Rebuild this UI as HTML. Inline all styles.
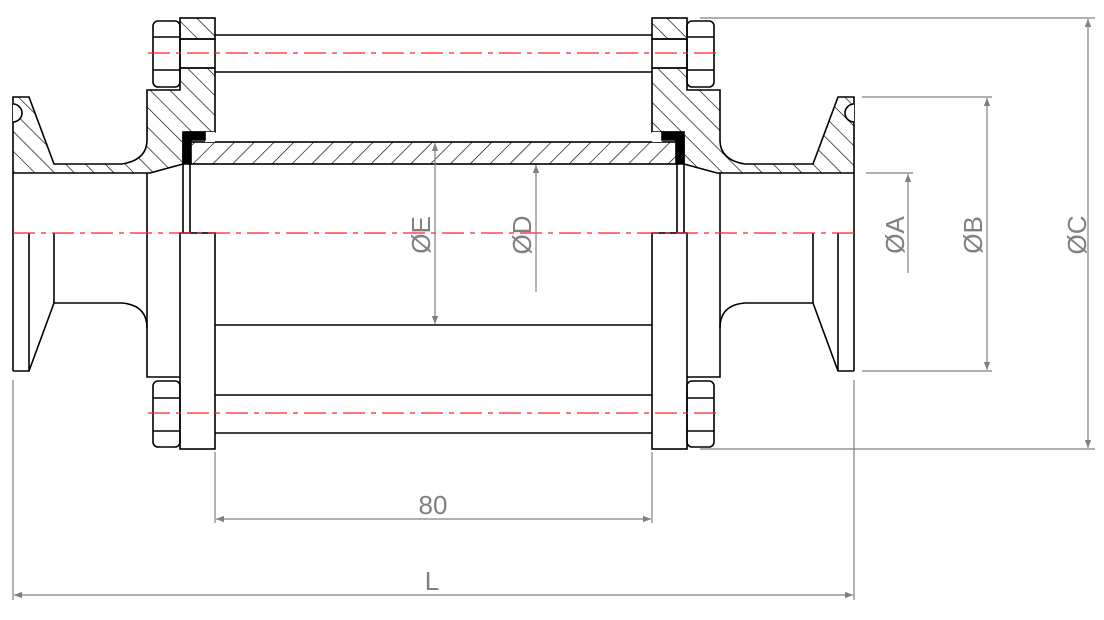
<!DOCTYPE html>
<html><head><meta charset="utf-8"><style>
html,body{margin:0;padding:0;background:#fff;width:1104px;height:620px;overflow:hidden}
text{font-family:"Liberation Sans",sans-serif;fill:#808080}
</style></head><body>
<svg width="1104" height="620" viewBox="0 0 1104 620" xmlns="http://www.w3.org/2000/svg">
<defs>
<pattern id="hL" patternUnits="userSpaceOnUse" width="14" height="14" patternTransform="rotate(-45)"><line x1="0" y1="0" x2="0" y2="14" stroke="#000" stroke-width="1.3"/></pattern>
<pattern id="hR" patternUnits="userSpaceOnUse" width="14" height="14" patternTransform="rotate(45)"><line x1="0" y1="0" x2="0" y2="14" stroke="#000" stroke-width="1.3"/></pattern>
<pattern id="hT" patternUnits="userSpaceOnUse" width="14" height="14" patternTransform="rotate(45)"><line x1="0" y1="0" x2="0" y2="14" stroke="#000" stroke-width="1.3"/></pattern>
<marker id="ar" viewBox="0 0 10 10" refX="10" refY="5" markerWidth="14" markerHeight="8" markerUnits="userSpaceOnUse" orient="auto-start-reverse"><path d="M0,1 L10,5 L0,9 z" fill="#808080"/></marker>
</defs>
<g fill="none" stroke="#000" stroke-width="1.6">
<rect x="190" y="142" width="487" height="22" fill="url(#hT)"/>
<line x1="215" y1="35" x2="652" y2="35"/><line x1="215" y1="72" x2="652" y2="72"/>
<line x1="215" y1="395" x2="652" y2="395"/><line x1="215" y1="433" x2="652" y2="433"/>
<line x1="215" y1="325" x2="652" y2="325"/>
</g>
<g fill="none" stroke="#000" stroke-width="1.6">
<path d="M13,97 L29,97 L54,164 L122,164 Q147,160 147,140 L147,90 L180,90 L180,68 L215,68 L215,132 L183,132 L183,164 L150,173 L13,173 Z" fill="url(#hL)"/>
<rect x="180" y="18" width="35" height="21" fill="url(#hL)"/>
<line x1="180" y1="39" x2="180" y2="68"/><line x1="215" y1="39" x2="215" y2="68"/>
<line x1="180" y1="39" x2="215" y2="39"/><line x1="180" y1="68" x2="215" y2="68"/>
<path d="M13,104 A7,7 0 0 1 13,122" fill="#fff"/>
<rect x="205" y="132" width="10" height="10" fill="#fff" stroke="none"/>
<path d="M183,164 L183,136 Q183,132 187,132 L205,132 L205,140 L191,140 L191,164 Z" fill="#000" stroke="#000"/>
<line x1="183" y1="164" x2="183" y2="233"/><line x1="190" y1="164" x2="190" y2="233"/>
<line x1="147" y1="173" x2="147" y2="233"/>
<rect x="153" y="21" width="27" height="66" rx="5"/><line x1="153" y1="37" x2="180" y2="37"/><line x1="153" y1="70" x2="180" y2="70"/>
<line x1="13" y1="173" x2="13" y2="371"/>
<path d="M13,371 L29,371 L54,303 L122,303 Q147,305 147,328 L147,377 L180,377"/>
<line x1="29" y1="233" x2="29" y2="371"/><line x1="54" y1="233" x2="54" y2="303"/>
<line x1="147" y1="233" x2="147" y2="328"/>
<rect x="180" y="233" width="35" height="216"/>
<rect x="153" y="381" width="27" height="66" rx="5"/><line x1="153" y1="398" x2="180" y2="398"/><line x1="153" y1="431" x2="180" y2="431"/>
</g>
<g transform="translate(867,0) scale(-1,1)" fill="none" stroke="#000" stroke-width="1.6">
<path d="M13,97 L29,97 L54,164 L122,164 Q147,160 147,140 L147,90 L180,90 L180,68 L215,68 L215,132 L183,132 L183,164 L150,173 L13,173 Z" fill="url(#hR)"/>
<rect x="180" y="18" width="35" height="21" fill="url(#hR)"/>
<line x1="180" y1="39" x2="180" y2="68"/><line x1="215" y1="39" x2="215" y2="68"/>
<line x1="180" y1="39" x2="215" y2="39"/><line x1="180" y1="68" x2="215" y2="68"/>
<path d="M13,104 A7,7 0 0 1 13,122" fill="#fff"/>
<rect x="205" y="132" width="10" height="10" fill="#fff" stroke="none"/>
<path d="M183,164 L183,136 Q183,132 187,132 L205,132 L205,140 L191,140 L191,164 Z" fill="#000" stroke="#000"/>
<line x1="183" y1="164" x2="183" y2="233"/><line x1="190" y1="164" x2="190" y2="233"/>
<line x1="147" y1="173" x2="147" y2="233"/>
<rect x="153" y="21" width="27" height="66" rx="5"/><line x1="153" y1="37" x2="180" y2="37"/><line x1="153" y1="70" x2="180" y2="70"/>
<line x1="13" y1="173" x2="13" y2="371"/>
<path d="M13,371 L29,371 L54,303 L122,303 Q147,305 147,328 L147,377 L180,377"/>
<line x1="29" y1="233" x2="29" y2="371"/><line x1="54" y1="233" x2="54" y2="303"/>
<line x1="147" y1="233" x2="147" y2="328"/>
<rect x="180" y="233" width="35" height="216"/>
<rect x="153" y="381" width="27" height="66" rx="5"/><line x1="153" y1="398" x2="180" y2="398"/><line x1="153" y1="431" x2="180" y2="431"/>
</g>
<g stroke="#ff2020" stroke-width="1.3" stroke-dasharray="22 6 5 6" fill="none">
<line x1="13" y1="233" x2="855" y2="233"/>
<line x1="148" y1="53" x2="720" y2="53"/>
<line x1="148" y1="413" x2="720" y2="413"/>
</g>
<g stroke="#808080" stroke-width="1.2" fill="none">
<line x1="215" y1="452" x2="215" y2="523"/><line x1="652" y1="452" x2="652" y2="523"/>
<line x1="216" y1="519" x2="651" y2="519" marker-start="url(#ar)" marker-end="url(#ar)"/>
<line x1="13" y1="380" x2="13" y2="600"/><line x1="854" y1="380" x2="854" y2="600"/>
<line x1="14" y1="595" x2="853" y2="595" marker-start="url(#ar)" marker-end="url(#ar)"/>
<line x1="700" y1="18" x2="1095" y2="18"/><line x1="700" y1="449" x2="1095" y2="449"/>
<line x1="1088" y1="19" x2="1088" y2="448" marker-start="url(#ar)" marker-end="url(#ar)"/>
<line x1="862" y1="97" x2="992" y2="97"/><line x1="862" y1="371" x2="992" y2="371"/>
<line x1="987" y1="98" x2="987" y2="370" marker-start="url(#ar)" marker-end="url(#ar)"/>
<line x1="866" y1="173" x2="913" y2="173"/>
<line x1="908" y1="273" x2="908" y2="174" marker-end="url(#ar)"/>
<line x1="536" y1="292" x2="536" y2="165" marker-end="url(#ar)"/>
<line x1="435" y1="143" x2="435" y2="324" marker-start="url(#ar)" marker-end="url(#ar)"/>
</g>
<text x="433" y="514" font-size="26" text-anchor="middle">80</text>
<text x="432" y="590" font-size="26" text-anchor="middle">L</text>
<text transform="translate(430,235) rotate(-90)" font-size="26" text-anchor="middle">ØE</text>
<text transform="translate(531,235) rotate(-90)" font-size="26" text-anchor="middle">ØD</text>
<text transform="translate(904,235) rotate(-90)" font-size="26" text-anchor="middle">ØA</text>
<text transform="translate(982,235) rotate(-90)" font-size="26" text-anchor="middle">ØB</text>
<text transform="translate(1086,235) rotate(-90)" font-size="26" text-anchor="middle">ØC</text>
</svg>
</body></html>
